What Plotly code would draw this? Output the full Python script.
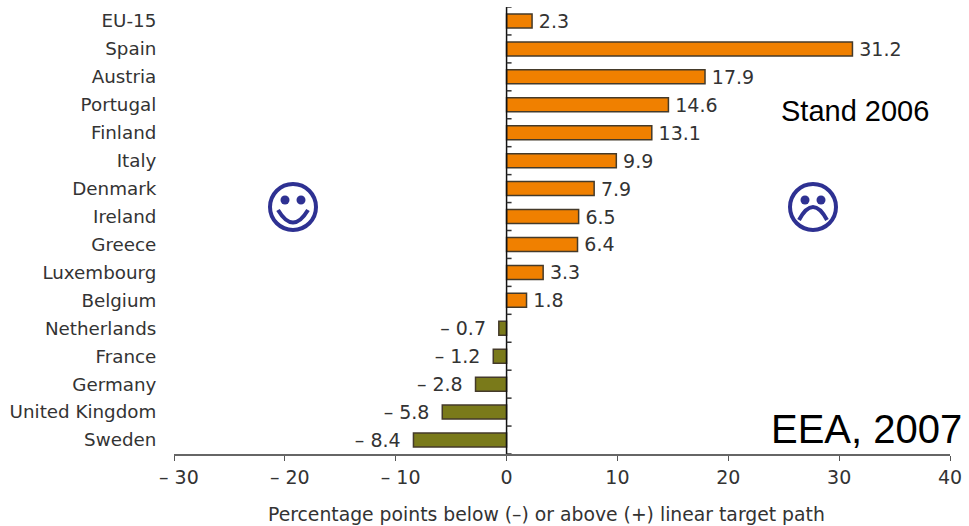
import plotly.graph_objects as go

countries = ["EU-15", "Spain", "Austria", "Portugal", "Finland", "Italy", "Denmark", "Ireland",
             "Greece", "Luxembourg", "Belgium", "Netherlands", "France", "Germany",
             "United Kingdom", "Sweden"]
gaps = [2.3, 31.2, 17.9, 14.6, 13.1, 9.9, 7.9, 6.5, 6.4, 3.3, 1.8, -0.7, -1.2, -2.8, -5.8, -8.4]
x_ticks = [-30, -20, -10, 0, 10, 20, 30, 40]
x_tick_labels = ["\u00a0\u2009– 30", "\u00a0\u2009– 20", "\u00a0\u2009– 10", "0", "10", "20", "30", "40"]
x_title = "Percentage points below (–) or above (+) linear target path"

ABOVE = "#F08000"
BELOW = "#7A7A1A"
INK = "#333333"
FACE = "#2E3192"
FONT = "DejaVu Sans"

W, H = 969, 526
L, R, T, B = 174, 950, 7, 454


def px(x):
    # page pixel to plot-area fraction
    return (x - L) / (R - L)


def py(y):
    return 1 - (y - T) / (B - T)


def label(v):
    return f"\u2009{v:.1f}" if v >= 0 else f"– {abs(v):.1f} \u2009"


fig = go.Figure()
fig.add_bar(
    y=list(range(len(countries))), x=gaps, orientation="h", width=0.5,
    marker=dict(color=[ABOVE if v >= 0 else BELOW for v in gaps],
                line=dict(color="#443a2a", width=1.5)),
    text=[label(v) for v in gaps], textposition="outside", cliponaxis=False,
    constraintext="none",
    textfont=dict(family=FONT, size=19, color=INK),
    showlegend=False, hoverinfo="skip",
)

# Centre axis at zero, with short ticks between the categories
shapes = [dict(type="line", xref="x", yref="paper", x0=0, x1=0, y0=0, y1=1,
               line=dict(color="#111111", width=1.5))]
for i in range(len(countries) + 1):
    shapes.append(dict(type="line", xref="x", yref="y",
                       x0=0, x1=0.45, y0=i - 0.5, y1=i - 0.5,
                       line=dict(color="#333333", width=1.5)))

for cx, cy, smile in [(293, 207, True), (813, 207, False)]:
    r = 23
    shapes.append(dict(type="circle", xref="paper", yref="paper",
                       x0=px(cx - r), x1=px(cx + r), y0=py(cy + r), y1=py(cy - r),
                       line=dict(color=FACE, width=4)))
    for dx in (-8, 8):
        shapes.append(dict(type="circle", xref="paper", yref="paper",
                           x0=px(cx + dx - 4.5), x1=px(cx + dx + 4.5),
                           y0=py(cy - 7 + 4.5), y1=py(cy - 7 - 4.5),
                           fillcolor=FACE, line=dict(width=0)))
    if smile:
        a, ctrl, b = (cx - 15, cy + 3), (cx, cy + 28), (cx + 15, cy + 3)
    else:
        a, ctrl, b = (cx - 14, cy + 13), (cx, cy - 13), (cx + 14, cy + 13)
    path = (f"M {px(a[0])} {py(a[1])} Q {px(ctrl[0])} {py(ctrl[1])} {px(b[0])} {py(b[1])}")
    shapes.append(dict(type="path", xref="paper", yref="paper", path=path,
                       line=dict(color=FACE, width=4)))

notes = [
    dict(text="Stand 2006", x=px(855), y=py(111), size=29, family="Liberation Sans", color="#000000"),
    dict(text="EEA, 2007", x=px(866.5), y=py(429), size=40, family="Liberation Sans", color="#000000"),
    dict(text=x_title, x=px(546), y=py(514), size=18.8, family=FONT, color=INK),
]
annotations = [
    dict(text=n["text"], x=n["x"], y=n["y"], xref="paper", yref="paper", showarrow=False,
         xanchor="center", yanchor="middle",
         font=dict(family=n["family"], size=n["size"], color=n["color"]))
    for n in notes
]

fig.update_layout(
    width=W, height=H, margin=dict(l=L, r=W - R, t=T, b=H - B),
    paper_bgcolor="white", plot_bgcolor="white", barmode="overlay",
    font=dict(family=FONT, color=INK, size=16),
    shapes=shapes, annotations=annotations,
    xaxis=dict(
        range=[-30, 40], tickmode="array", tickvals=x_ticks, ticktext=x_tick_labels,
        ticks="outside", ticklen=5, tickcolor="#555555", tickwidth=1,
        showline=True, linecolor="#666666", linewidth=2, showgrid=False, zeroline=False,
        tickfont=dict(family=FONT, size=19, color=INK),
    ),
    yaxis=dict(
        range=[15.5, -0.5], tickmode="array", tickvals=list(range(len(countries))),
        ticktext=countries, ticks="outside", ticklen=13, tickcolor="rgba(0,0,0,0)",
        showgrid=False, zeroline=False, showline=False,
        tickfont=dict(family=FONT, size=18.3, color=INK),
    ),
)
fig.write_html("out.html")
